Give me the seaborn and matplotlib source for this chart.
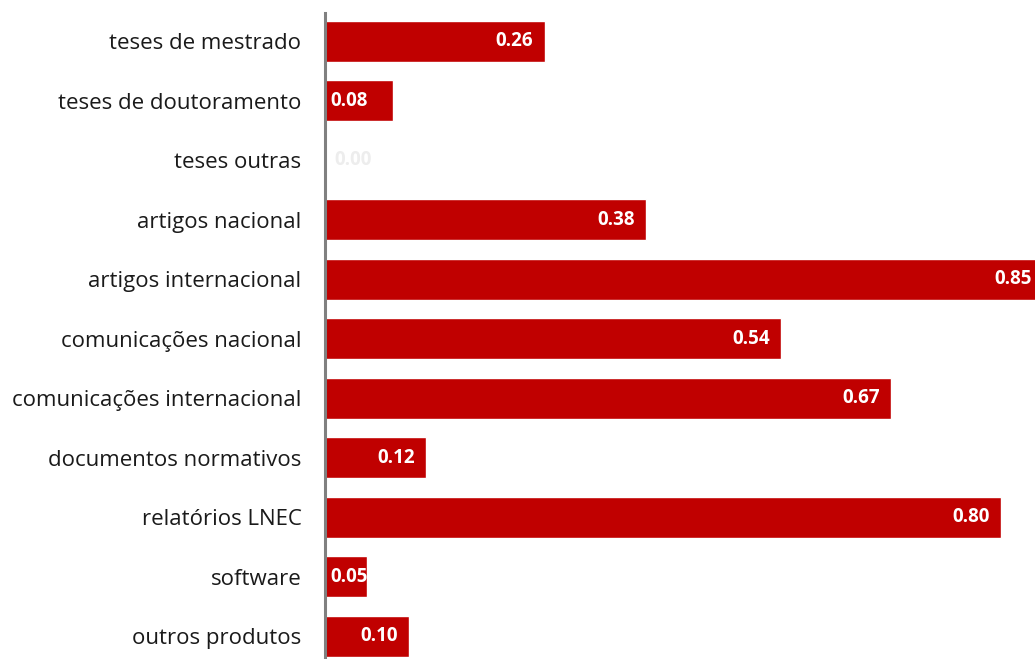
import matplotlib
matplotlib.use("Agg")
import matplotlib.pyplot as plt
import seaborn as sns
import pandas as pd

categories = ["teses de mestrado", "teses de doutoramento", "teses outras",
              "artigos nacional", "artigos internacional", "comunicações nacional",
              "comunicações internacional", "documentos normativos",
              "relatórios LNEC", "software", "outros produtos"]
values = [0.26, 0.08, 0.00, 0.38, 0.85, 0.54, 0.67, 0.12, 0.80, 0.05, 0.10]
value_labels = ["0.26", "0.08", "0.00", "0.38", "0.85", "0.54", "0.67", "0.12", "0.80", "0.05", "0.10"]

df = pd.DataFrame({"categoria": categories, "valor": values})

sns.set_theme(style="white")
plt.rcParams['font.family'] = ['Open Sans', 'DejaVu Sans']

W, H = 1035, 659
fig = plt.figure(figsize=(W / 100, H / 100), dpi=100)
ax = fig.add_axes([325 / W, 0, 1 - 325 / W, 1 - 12.5 / H])

sns.barplot(data=df, x="valor", y="categoria", color="#C00000", saturation=1,
            width=0.69, ax=ax, orient="h")

ax.set_xlim(0, (W - 327) / 842)
ax.set_ylim(10 + 23 / 59.5, -29 / 59.5)
ax.set_xlabel("")
ax.set_ylabel("")
ax.set_xticks([])
for s in ["top", "right", "bottom"]:
    ax.spines[s].set_visible(False)
ax.spines["left"].set_color("#808080")
ax.spines["left"].set_linewidth(2.2)
ax.tick_params(axis="y", length=0, pad=17, labelsize=16, labelcolor="#1a1a1a")

for i, (v, lab) in enumerate(zip(values, value_labels)):
    if v == 0:
        ax.annotate(lab, (0, i), xytext=(7, 0), textcoords="offset points",
                    ha="left", va="center", color="#EDEDED", fontsize=13.5,
                    fontweight="bold", annotation_clip=False)
    elif v < 0.09:
        ax.annotate(lab, (0, i), xytext=(4, 0), textcoords="offset points",
                    ha="left", va="center", color="white", fontsize=13.5,
                    fontweight="bold", annotation_clip=False)
    else:
        ax.annotate(lab, (v, i), xytext=(-8, 0), textcoords="offset points",
                    ha="right", va="center", color="white", fontsize=13.5,
                    fontweight="bold", annotation_clip=False)

fig.savefig("out.png", dpi=100)
